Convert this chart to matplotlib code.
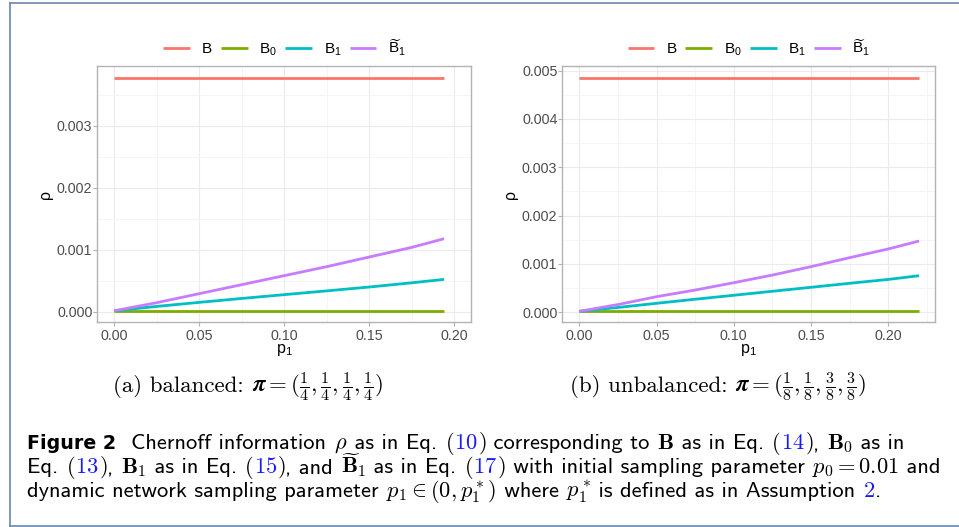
import matplotlib
matplotlib.use('Agg')
import matplotlib.pyplot as plt
from matplotlib.ticker import MultipleLocator, FormatStrFormatter
from matplotlib.offsetbox import TextArea, HPacker, AnchoredOffsetbox
from matplotlib.lines import Line2D

plt.rcParams['font.family'] = ['Liberation Sans', 'DejaVu Sans']
plt.rcParams['mathtext.fontset'] = 'custom'
plt.rcParams['mathtext.rm'] = 'Liberation Sans'
plt.rcParams['mathtext.it'] = 'Liberation Sans:italic'
plt.rcParams['mathtext.bf'] = 'Liberation Sans:bold'

# values
series_names = ['B', 'B0', 'B1', 'B1_tilde']
series_labels = [r'$\mathrm{B}$', r'$\mathrm{B}_0$', r'$\mathrm{B}_1$', r'$\widetilde{\mathrm{B}}_1$']
colors = ['#F8766D', '#7CAE00', '#00BFC4', '#C77CFF']

p1_bal = [0.0, 0.025, 0.05, 0.075, 0.10, 0.125, 0.15, 0.175, 0.194]
B_bal = [0.003773] * len(p1_bal)
B0_bal = [0.00002] * len(p1_bal)
B1_bal = [0.00002, 0.00009, 0.000155, 0.000218, 0.000279, 0.00034, 0.000402, 0.00047, 0.000525]
B1t_bal = [0.00002, 0.00015, 0.000295, 0.00044, 0.000585, 0.00073, 0.000885, 0.00104, 0.00118]

p1_unb = [0.0, 0.025, 0.05, 0.075, 0.10, 0.125, 0.15, 0.175, 0.20, 0.22]
B_unb = [0.004848] * len(p1_unb)
B0_unb = [0.00002] * len(p1_unb)
B1_unb = [0.00002, 0.0001, 0.000186, 0.00027, 0.000352, 0.000435, 0.000517, 0.0006, 0.00068, 0.000757]
B1t_unb = [0.00002, 0.00016, 0.000323, 0.00046, 0.000612, 0.00077, 0.000944, 0.00113, 0.00131, 0.001475]

pi_bal = ['1', '4', '1', '4', '1', '4', '1', '4']
pi_unb = ['1', '8', '1', '8', '3', '8', '3', '8']

W, H = 959, 527
fig = plt.figure(figsize=(W / 100, H / 100), dpi=100)


def make_panel(rect, x, ys, xlim, ylim):
    ax = fig.add_axes(rect)
    for y, c, lab in zip(ys, colors, series_labels):
        ax.plot(x, y, color=c, lw=2.0, label=lab, solid_capstyle='butt')
    ax.set_xlim(*xlim)
    ax.set_ylim(*ylim)
    ax.xaxis.set_major_locator(MultipleLocator(0.05))
    ax.xaxis.set_minor_locator(MultipleLocator(0.025))
    ax.yaxis.set_major_locator(MultipleLocator(0.001))
    ax.yaxis.set_minor_locator(MultipleLocator(0.0005))
    ax.xaxis.set_major_formatter(FormatStrFormatter('%.2f'))
    ax.yaxis.set_major_formatter(FormatStrFormatter('%.3f'))
    ax.grid(which='major', color='#ebebeb', lw=0.8)
    ax.grid(which='minor', color='#f4f4f4', lw=0.6)
    ax.set_axisbelow(True)
    for s in ax.spines.values():
        s.set_color('#b3b3b3')
        s.set_linewidth(1.0)
    ax.tick_params(which='major', length=3, width=0.8, color='#b3b3b3',
                   labelsize=10.3, labelcolor='#4d4d4d')
    ax.tick_params(axis='x', pad=2)
    ax.tick_params(axis='y', pad=0.5)
    ax.tick_params(which='minor', length=0)
    ax.set_xlabel(r'p$_1$', fontsize=11.5, labelpad=-1)
    ax.set_ylabel('ρ', fontsize=11.5, labelpad=3)
    ax.legend(loc='lower center', bbox_to_anchor=(0.5, 1.008), ncol=4,
              frameon=False, fontsize=11, handlelength=1.75,
              handletextpad=0.75, columnspacing=0.55, borderaxespad=0)
    return ax


ax_h = (322.3 - 66) / H
ax_b = (H - 322.3) / H
make_panel([97.3 / W, ax_b, 374 / W, ax_h], p1_bal,
           [B_bal, B0_bal, B1_bal, B1t_bal], (-0.01, 0.21), (-0.000166, 0.00396))
make_panel([562.3 / W, ax_b, 373 / W, ax_h], p1_unb,
           [B_unb, B0_unb, B1_unb, B1t_unb], (-0.011, 0.2305), (-0.000207, 0.005096))

# frame round the figure
frame = '#6b88ad'
fig.add_artist(Line2D([9.5 / W, 9.5 / W], [1 - 2.5 / H, 1 - 525.5 / H], color=frame, lw=1.2))
fig.add_artist(Line2D([9.5 / W, 1], [1 - 2.5 / H, 1 - 2.5 / H], color=frame, lw=1.2))
fig.add_artist(Line2D([9.5 / W, 1], [1 - 525.5 / H, 1 - 525.5 / H], color=frame, lw=1.2))

cap_ax = fig.add_axes([0, 0, 1, 1])
cap_ax.axis('off')
blue = '#1a1aff'


def place(pieces, x, y_base, loc='lower left'):
    box = HPacker(children=pieces, align='baseline', pad=0, sep=0)
    anc = AnchoredOffsetbox(loc=loc, child=box, pad=0, borderpad=0,
                            frameon=False, bbox_to_anchor=(x / W, 1 - y_base / H),
                            bbox_transform=fig.transFigure)
    cap_ax.add_artist(anc)


# sub captions
SS = 16.5


def sub_caption(tag, fr, x):
    fracs = ', '.join(r'\frac{%s}{%s}' % (fr[i], fr[i + 1]) for i in range(0, 8, 2))
    pieces = [
        TextArea('(%s) %s: ' % tag, textprops=dict(fontfamily='cmr10', fontsize=SS)),
        TextArea(r'$\boldsymbol{\pi} = (%s)$' % fracs,
                 textprops=dict(fontsize=SS, math_fontfamily='cm')),
    ]
    place(pieces, x, 404, loc='lower center')


sub_caption(('a', 'balanced'), pi_bal, 248)
sub_caption(('b', 'unbalanced'), pi_unb, 718)

# figure caption, built from pieces
CS = 16.2


def piece(s, kind='t', color='black'):
    if kind == 'bold':
        props = dict(fontfamily='DejaVu Sans', fontweight='bold', fontsize=CS - 2.5, color=color)
    elif kind == 'm':
        props = dict(fontsize=CS, color=color, math_fontfamily='cm')
    else:
        props = dict(fontfamily='cmss10', fontsize=CS, color=color)
    return TextArea(s, textprops=props)


place([
    piece('Figure 2', 'bold'), piece('  Chernoff information '), piece(r'$\rho\,$', 'm'),
    piece(' as in Eq. '), piece(r'$($', 'm'), piece(r'$10$', 'm', blue), piece(r'$)$', 'm'),
    piece(' corresponding to '), piece(r'$\mathbf{B}$', 'm'), piece(' as in Eq. '),
    piece(r'$($', 'm'), piece(r'$14$', 'm', blue), piece(r'$)$', 'm'), piece(', '),
    piece(r'$\mathbf{B}_0$', 'm'), piece(' as in'),
], 27, 457)
place([
    piece('Eq. '), piece(r'$($', 'm'), piece(r'$13$', 'm', blue), piece(r'$)$', 'm'), piece(', '),
    piece(r'$\mathbf{B}_1$', 'm'), piece(' as in Eq. '), piece(r'$($', 'm'),
    piece(r'$15$', 'm', blue), piece(r'$)$', 'm'), piece(', and '),
    piece(r'$\widetilde{\mathbf{B}}_1$', 'm'), piece(' as in Eq. '), piece(r'$($', 'm'),
    piece(r'$17$', 'm', blue), piece(r'$)$', 'm'),
    piece(' with initial sampling parameter '), piece(r'$p_0 = 0.01$', 'm'), piece(' and'),
], 27, 481)
place([
    piece('dynamic network sampling parameter '), piece(r'$p_1 \in (0, p_1^*)$', 'm'),
    piece(' where '), piece(r'$p_1^*$', 'm'), piece(' is defined as in Assumption '),
    piece(r'$2$', 'm', blue), piece('.'),
], 27, 505)

fig.savefig('out.png', dpi=100)
